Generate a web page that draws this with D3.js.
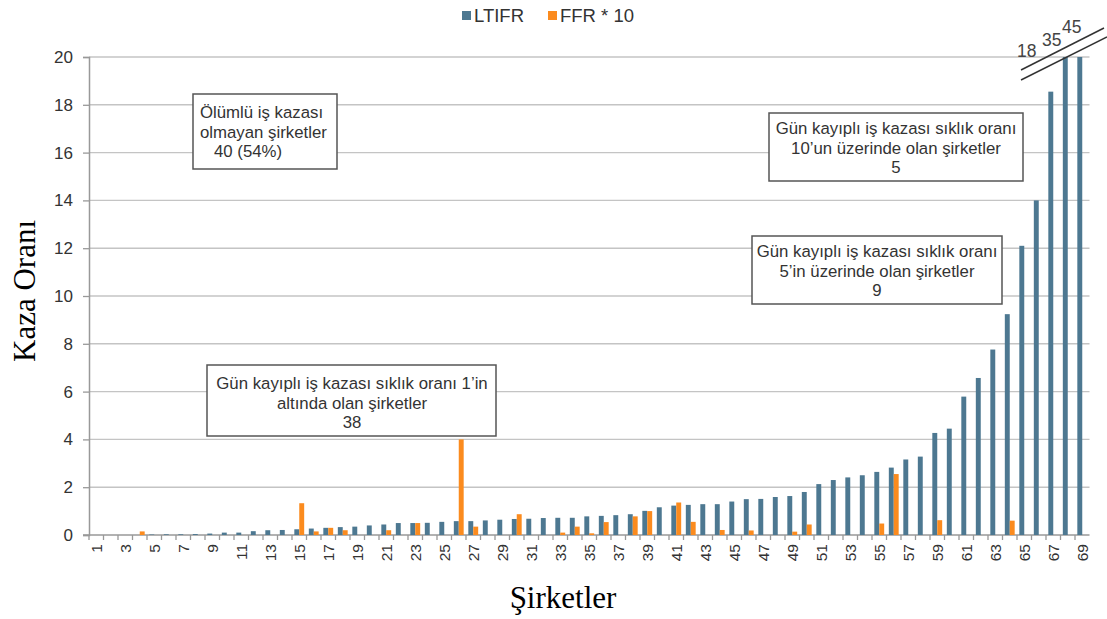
<!DOCTYPE html>
<html>
<head>
<meta charset="utf-8">
<script src="https://cdn.jsdelivr.net/npm/d3@7"></script>
<style>
  body { margin: 0; background: #fff; }
  text { font-family: "Liberation Sans", Arial, sans-serif; }
</style>
</head>
<body>
<svg id="chart"></svg>
<script>
var companies = ["1","2","3","4","5","6","7","8","9","10","11","12","13","14","15","16","17","18","19","20",
  "21","22","23","24","25","26","27","28","29","30","31","32","33","34","35","36","37","38","39","40",
  "41","42","43","44","45","46","47","48","49","50","51","52","53","54","55","56","57","58","59","60",
  "61","62","63","64","65","66","67","68","69"];

var ltifr = [0, 0, 0, 0, 0.02, 0.03, 0.03, 0.04, 0.06, 0.1,
  0.1, 0.16, 0.2, 0.21, 0.24, 0.27, 0.3, 0.33, 0.35, 0.4,
  0.44, 0.5, 0.5, 0.51, 0.55, 0.58, 0.58, 0.61, 0.64, 0.67,
  0.68, 0.71, 0.72, 0.72, 0.78, 0.8, 0.83, 0.87, 1.01, 1.16,
  1.23, 1.26, 1.29, 1.29, 1.4, 1.5, 1.51, 1.59, 1.63, 1.8,
  2.13, 2.3, 2.41, 2.5, 2.64, 2.82, 3.16, 3.28, 4.27, 4.45,
  5.79, 6.57, 7.76, 9.24, 12.1, 14.0, 18.55, 35, 45];

var ffr10 = [0, 0, 0, 0.15, 0, 0, 0, 0, 0, 0,
  0, 0, 0, 0, 1.33, 0.15, 0.3, 0.2, 0, 0,
  0.2, 0, 0.5, 0, 0, 4.0, 0.35, 0, 0, 0.87,
  0, 0, 0.1, 0.35, 0.07, 0.54, 0, 0.78, 1.0, 0,
  1.36, 0.55, 0, 0.21, 0, 0.19, 0, 0, 0.14, 0.44,
  0, 0, 0, 0, 0.48, 2.55, 0, 0, 0.62, 0,
  0, 0, 0, 0.6, 0, 0, 0, 0, 0];

var yTicks = [0, 2, 4, 6, 8, 10, 12, 14, 16, 18, 20];
var breakLabels = ["18", "35", "45"];
var seriesNames = ["LTIFR", "FFR * 10"];
var colors = ["#4d7891", "#fb8b1e"];

var notes = [
  {lines: ["Ölümlü iş kazası", "olmayan şirketler", "   40 (54%)"], box: [193, 94, 144, 75], anchor: "start", tx: 200, ty: 118},
  {lines: ["Gün kayıplı iş kazası sıklık oranı 1’in", "altında olan şirketler", "38"], box: [207, 365, 289, 71], anchor: "middle", tx: 352, ty: 389},
  {lines: ["Gün kayıplı iş kazası sıklık oranı", "10’un üzerinde olan şirketler", "5"], box: [769, 113, 254, 68], anchor: "middle", tx: 896, ty: 134},
  {lines: ["Gün kayıplı iş kazası sıklık oranı", "5’in üzerinde olan şirketler", "9"], box: [752, 236, 250, 68], anchor: "middle", tx: 877, ty: 257}
];

var width = 1107;
var height = 619;
var plotLeft = 89, plotRight = 1089.5, plotTop = 57, plotBottom = 535;

var svg = d3.select("#chart")
            .attr("width", width)
            .attr("height", height);

var x = d3.scaleBand()
          .domain(companies)
          .range([plotLeft, plotRight])
          .paddingInner(0.32)
          .paddingOuter(0.16);

var xSub = d3.scaleBand()
             .domain(seriesNames)
             .range([0, x.bandwidth()]);

var y = d3.scaleLinear()
          .domain([0, 20])
          .range([plotBottom, plotTop])
          .clamp(true);

// gridlines
svg.append("g")
   .selectAll("line")
   .data(yTicks.slice(1))
   .enter()
   .append("line")
   .attr("x1", plotLeft)
   .attr("x2", plotRight)
   .attr("y1", function(d){ return y(d); })
   .attr("y2", function(d){ return y(d); })
   .attr("stroke", "#c4c4c4")
   .attr("stroke-width", 1.4);

// y axis
var yAxis = d3.axisLeft(y).tickValues(yTicks).tickSize(6).tickPadding(10);
var gy = svg.append("g")
            .attr("transform", "translate(" + plotLeft + ",0)")
            .call(yAxis);
gy.select(".domain").attr("stroke", "#999").attr("stroke-width", 1.5);
gy.selectAll(".tick line").attr("stroke", "#999").attr("stroke-width", 1.3);
gy.selectAll(".tick text")
  .attr("font-size", 17)
  .attr("fill", "#333")
  .style("font-family", "Liberation Sans, Arial, sans-serif");

// x axis ticks at band edges
var step = x.step();
svg.append("g")
   .selectAll("line")
   .data(companies)
   .enter()
   .append("line")
   .attr("x1", function(d){ return x(d) - step * 0.16; })
   .attr("x2", function(d){ return x(d) - step * 0.16; })
   .attr("y1", plotBottom)
   .attr("y2", plotBottom + 5)
   .attr("stroke", "#999")
   .attr("stroke-width", 1.3);

svg.append("line")
   .attr("x1", plotLeft - 6)
   .attr("x2", plotRight)
   .attr("y1", plotBottom)
   .attr("y2", plotBottom)
   .attr("stroke", "#999")
   .attr("stroke-width", 1.5);

svg.append("g")
   .selectAll("text")
   .data(companies.filter(function(d, i){ return i % 2 == 0; }))
   .enter()
   .append("text")
   .text(function(d){ return d; })
   .attr("transform", function(d){
     return "translate(" + (x(d) + x.bandwidth() / 2 + 5.5) + "," + (plotBottom + 9) + ") rotate(-90)";
   })
   .attr("text-anchor", "end")
   .attr("font-size", 15.5)
   .attr("fill", "#333");

// bars
var series = [ltifr, ffr10];
series.forEach(function(vals, s){
  svg.append("g")
     .selectAll("rect")
     .data(vals)
     .enter()
     .append("rect")
     .attr("x", function(d, i){ return x(companies[i]) + xSub(seriesNames[s]); })
     .attr("y", function(d){ return y(d); })
     .attr("width", xSub.bandwidth())
     .attr("height", function(d){ return plotBottom - y(d); })
     .attr("fill", colors[s]);
});

// axis break for values above 20
svg.append("line").attr("x1", 1021).attr("y1", 70).attr("x2", 1104).attr("y2", 28)
   .attr("stroke", "#333").attr("stroke-width", 1.5);
svg.append("line").attr("x1", 1021).attr("y1", 80).attr("x2", 1107).attr("y2", 37)
   .attr("stroke", "#333").attr("stroke-width", 1.5);
var breakPos = [[1017, 57], [1042, 46], [1062, 33]];
svg.append("g")
   .selectAll("text")
   .data(breakLabels)
   .enter()
   .append("text")
   .text(function(d){ return d; })
   .attr("x", function(d, i){ return breakPos[i][0]; })
   .attr("y", function(d, i){ return breakPos[i][1]; })
   .attr("font-size", 17.5)
   .attr("fill", "#444");

// annotation boxes
notes.forEach(function(n){
  var g = svg.append("g");
  g.append("rect")
   .attr("x", n.box[0]).attr("y", n.box[1])
   .attr("width", n.box[2]).attr("height", n.box[3])
   .attr("fill", "#fff")
   .attr("stroke", "#555")
   .attr("stroke-width", 1.5);
  g.selectAll("text")
   .data(n.lines)
   .enter()
   .append("text")
   .text(function(d){ return d; })
   .attr("x", n.tx)
   .attr("y", function(d, i){ return n.ty + i * 19.5; })
   .attr("text-anchor", n.anchor)
   .attr("font-size", 16.8)
   .attr("fill", "#333")
   .style("white-space", "pre");
});

// legend
var legX = [462, 548];
var leg = svg.append("g")
             .selectAll("g")
             .data(seriesNames)
             .enter()
             .append("g");
leg.append("rect")
   .attr("x", function(d, i){ return legX[i]; })
   .attr("y", 11)
   .attr("width", 9)
   .attr("height", 9)
   .attr("fill", function(d, i){ return colors[i]; });
leg.append("text")
   .text(function(d){ return d; })
   .attr("x", function(d, i){ return legX[i] + 12; })
   .attr("y", 22)
   .attr("font-size", 18.5)
   .attr("fill", "#333")
   .style("white-space", "pre");

// axis titles
svg.append("text")
   .text("Kaza Oranı")
   .attr("transform", "translate(35,291) rotate(-90)")
   .attr("text-anchor", "middle")
   .attr("font-size", 31)
   .attr("fill", "#000")
   .style("font-family", "Liberation Serif, Times New Roman, serif");

svg.append("text")
   .text("Şirketler")
   .attr("x", 563)
   .attr("y", 608)
   .attr("text-anchor", "middle")
   .attr("font-size", 31)
   .attr("fill", "#000")
   .style("font-family", "Liberation Serif, Times New Roman, serif");
</script>
</body>
</html>
